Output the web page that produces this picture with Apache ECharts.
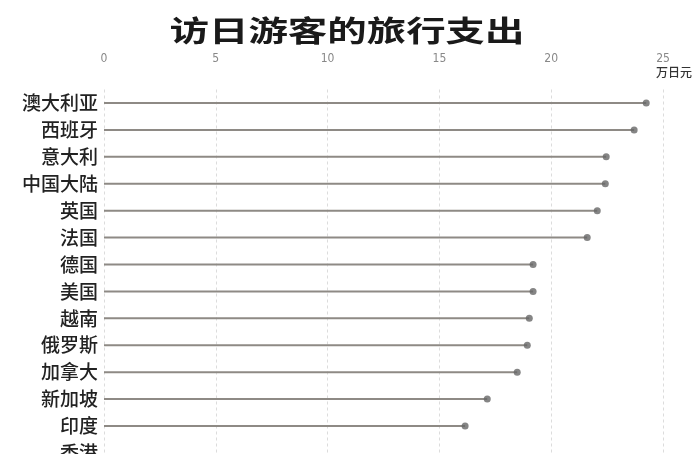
<!DOCTYPE html>
<html>
<head>
<meta charset="utf-8">
<script src="https://cdn.jsdelivr.net/npm/echarts@6/dist/echarts.min.js"></script>
<style>
html,body{margin:0;padding:0;background:#fff;}
#c{width:697px;height:454px;}
</style>
</head>
<body>
<div id="c"></div>
<script>
const titleText = '访日游客的旅行支出';
const unitText = '万日元';
const categories = ['澳大利亚','西班牙','意大利','中国大陆','英国','法国','德国','美国','越南','俄罗斯','加拿大','新加坡','印度','香港'];
const spending = [24.25, 23.71, 22.46, 22.42, 22.06, 21.61, 19.19, 19.19, 19.02, 18.93, 18.48, 17.14, 16.15, null];
const tickValues = [0, 5, 10, 15, 20, 25];

const chart = echarts.init(document.getElementById('c'));
chart.setOption({
  backgroundColor: '#fff',
  animation: false,
  graphic: [{
    type: 'text',
    x: 347,
    y: 31,
    scaleX: 1.36,
    style: {
      text: titleText,
      fontFamily: '"Noto Sans CJK SC", sans-serif',
      fontSize: 29,
      fontWeight: 'bold',
      fill: '#1a1a1a',
      align: 'center',
      verticalAlign: 'middle'
    }
  }, {
    type: 'text',
    left: 656,
    top: 66,
    style: {
      text: unitText,
      fontFamily: '"Noto Sans CJK SC", sans-serif',
      fontSize: 12,
      fontWeight: 500,
      fill: '#333'
    }
  }],
  grid: {
    left: 104,
    right: 34,
    top: 89.5,
    bottom: -12.4,
    outerBoundsMode: 'none',
    containLabel: false
  },
  xAxis: {
    type: 'value',
    position: 'top',
    min: tickValues[0],
    max: tickValues[tickValues.length - 1],
    interval: 5,
    axisLine: { show: false },
    axisTick: { show: false },
    axisLabel: {
      color: '#888',
      fontSize: 12,
      margin: 25,
      fontFamily: '"Liberation Sans Narrow", "DejaVu Sans Condensed", sans-serif'
    },
    splitLine: {
      show: true,
      lineStyle: { color: '#dcdcdc', type: [3, 3], width: 1 }
    }
  },
  yAxis: {
    type: 'category',
    data: categories,
    inverse: true,
    axisLine: { show: false },
    axisTick: { show: false },
    axisLabel: {
      color: '#222',
      fontSize: 19,
      fontWeight: 500,
      margin: 6,
      fontFamily: '"Noto Sans CJK SC", sans-serif'
    },
    splitLine: { show: false }
  },
  series: [{
    type: 'bar',
    data: spending,
    barWidth: 2,
    itemStyle: { color: '#8e8a85' },
    silent: true
  }, {
    type: 'scatter',
    data: spending,
    symbolSize: 7,
    itemStyle: { color: '#666' },
    z: 5,
    silent: true
  }]
});
</script>
</body>
</html>
